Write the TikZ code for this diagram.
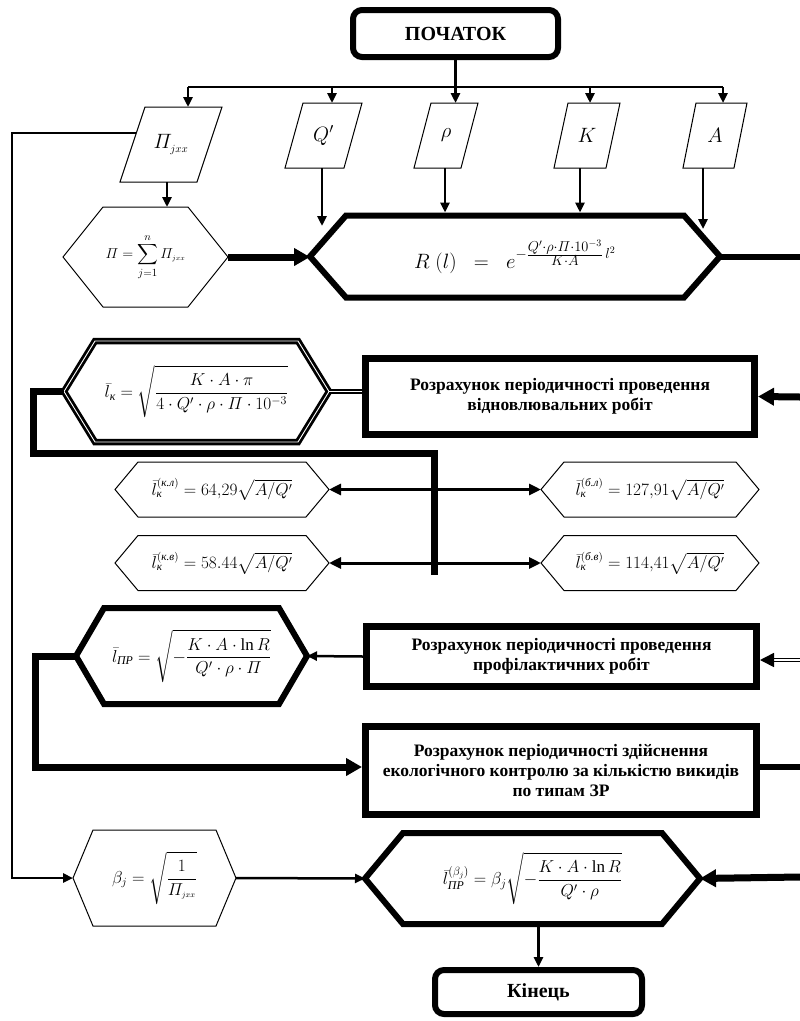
\documentclass[tikz,border=0pt]{standalone}
\usepackage{amsmath}
\usepackage{fontspec}
\setmainfont{Liberation Serif}
\usetikzlibrary{arrows.meta}
\newcommand\cyr[1]{\text{\itshape #1}}
\newcommand\hexshape[8]{%
  \node[hexnode, minimum width=#5pt, minimum height=#6pt] (#2) at (#3,#4) {#8};
  \draw[#1] (#2.west) -- ([xshift=#7pt]#2.north west) -- ([xshift=-#7pt]#2.north east) -- (#2.east) -- ([xshift=-#7pt]#2.south east) -- ([xshift=#7pt]#2.south west) -- cycle;}
\newcommand\parashape[7]{%
  \node[hexnode, minimum width=#4pt, minimum height=#5pt] (#1) at (#2,#3) {#7};
  \draw[thinln] ([xshift=#6pt]#1.north west) -- (#1.north east) -- ([xshift=-#6pt]#1.south east) -- (#1.south west) -- cycle;}
\tikzset{
  hexnode/.style={rectangle, draw=none, inner sep=0pt, outer sep=0pt},
  thinln/.style={line width=1pt, line join=miter},
  thickhex/.style={line width=6pt, line join=miter},
  dblhex/.style={line width=2.8pt, double=white, double distance=0.9pt, line join=miter},
  ln/.style={line width=2.5pt},
  thickln/.style={line width=7pt, line join=miter},
  dblln/.style={line width=1.6pt, double=white, double distance=1.6pt},
  arr/.style={line width=2.5pt, -{Triangle[length=10pt,width=9pt]}},
  dblarr/.style={line width=3pt, {Triangle[length=12pt,width=11pt]}-{Triangle[length=12pt,width=11pt]}},
  bigarr/.style={line width=7pt, line join=miter, -{Triangle[length=16pt,width=17pt]}},
  dblarrow/.style={line width=1.6pt, double=white, double distance=1.6pt, -{Triangle[length=14pt,width=14pt]}},
  procbox/.style={draw, line width=7pt, outer sep=3.5pt, inner sep=0pt, align=center, font=\fontsize{17.5}{20}\selectfont\bfseries},
  termbox/.style={draw, line width=6pt, outer sep=3pt, inner sep=0pt, rounded corners=9pt, font=\fontsize{20}{24}\selectfont\bfseries},
}
\begin{document}
\begin{tikzpicture}[x=1pt,y=-1pt]
\fill[white] (0,0) rectangle (800,1021);
\useasboundingbox (0,0) rectangle (800,1021);

% start
\node[termbox, minimum width=205pt, minimum height=47pt] (start) at (455.5,33.5) {ПОЧАТОК};

% parameters
\parashape{Pj}{171}{144.5}{102}{75}{25}{\fontsize{21}{24}\selectfont$\varPi_{\scriptscriptstyle jxx}$}
\parashape{Q}{323.5}{135.5}{77}{65}{18}{\fontsize{21}{24}\selectfont$Q'$}
\parashape{Rho}{446}{135.5}{64}{65}{17}{\fontsize{21}{24}\selectfont$\rho$}
\parashape{K}{587}{135.5}{66}{65}{14}{\fontsize{21}{24}\selectfont$K$}
\parashape{A}{715}{135.5}{64}{65}{13}{\fontsize{21}{24}\selectfont$A$}

% bus
\coordinate (busL) at (188,87);
\coordinate (busR) at (723,87);
\coordinate (busM) at (455.5,87);
\coordinate (qt) at (332,87);
\coordinate (kt) at (590,87);
\draw[ln] (start.south) -- (busM);
\draw[ln] (busL) -- (busR);
\draw[arr] (busL) -- (busL |- Pj.north);
\draw[arr] (qt) -- (qt |- Q.north);
\draw[arr] (busM) -- (busM |- Rho.north);
\draw[arr] (kt) -- (kt |- K.north);
\draw[arr] (busR) -- (busR |- A.north);

% Pi hexagon and R hexagon
\hexshape{thinln}{Pi}{145.5}{257}{165}{100}{40}{\fontsize{15}{18}\selectfont$\displaystyle \varPi=\sum_{j=1}^{n}\varPi_{\scriptscriptstyle jxx}$}
\hexshape{thickhex}{R}{515}{256.5}{410}{82}{36}{\fontsize{20}{24}\selectfont$R\;(l)\;\;=\;\;e^{-\frac{\scriptstyle Q'\cdot\rho\cdot\varPi\cdot10^{-3}}{\scriptstyle K\cdot A}\,l^{2}}$}

\coordinate (pe) at (167,0);
\coordinate (qe) at (322,226);
\coordinate (re) at (445,0);
\coordinate (ke) at (580,0);
\coordinate (ae) at (703,229);
\draw[arr] (pe |- Pj.south) -- (pe |- Pi.north);
\draw[arr] (qe |- Q.south) -- (qe);
\draw[arr] (re |- Rho.south) -- ([yshift=3pt]re |- R.north);
\draw[arr] (ke |- K.south) -- ([yshift=3pt]ke |- R.north);
\draw[arr] (ae |- A.south) -- (ae);
\draw[bigarr] (Pi.east) -- (Pi.east -| R.west);
\coordinate (rr) at (800,256.5);
\draw[line width=6pt] (R.east) -- (rr);

% restoration block
\hexshape{dblhex}{Lk}{196.5}{391.5}{265}{101}{31}{\fontsize{17}{20}\selectfont$\displaystyle \bar{l}_{\cyr{к}}=\sqrt{\frac{K\cdot A\cdot\pi}{4\cdot Q'\cdot\rho\cdot\varPi\cdot10^{-3}}}$}
\node[procbox, minimum width=389pt, minimum height=76pt] (B1) at (560,396.5) {Розрахунок періодичності проведення\\відновлювальних робіт};
\draw[dblln] (B1.west |- Lk.east) -- (Lk.east);
\coordinate (b1r) at (800,397);
\draw[bigarr] (b1r) -- (B1.east);

% small hexagons
\hexshape{thinln}{H1}{222}{489.5}{214}{55}{23}{\fontsize{16}{19}\selectfont$\bar{l}_{\cyr{к}}^{(\cyr{к.л})}=64{,}29\sqrt{A/Q'}$}
\hexshape{thinln}{H2}{650}{489.5}{218}{55}{23}{\fontsize{16}{19}\selectfont$\bar{l}_{\cyr{к}}^{(\cyr{б.л})}=127{,}91\sqrt{A/Q'}$}
\hexshape{thinln}{H3}{222}{563}{214}{55}{23}{\fontsize{16}{19}\selectfont$\bar{l}_{\cyr{к}}^{(\cyr{к.в})}=58.44\sqrt{A/Q'}$}
\hexshape{thinln}{H4}{650}{563}{218}{55}{23}{\fontsize{16}{19}\selectfont$\bar{l}_{\cyr{к}}^{(\cyr{б.в})}=114{,}41\sqrt{A/Q'}$}
\draw[dblarr] (H1.east) -- (H2.west);
\draw[dblarr] (H3.east) -- (H4.west);
\coordinate (t1) at (33,453);
\coordinate (t2) at (434,575);
\draw[thickln] (Lk.west) -| (t1) -| (t2);

% preventive block
\hexshape{thickhex}{Lpr}{191.5}{656}{231}{96}{28}{\fontsize{17}{20}\selectfont$\displaystyle \bar{l}_{\cyr{ПР}}=\sqrt{-\frac{K\cdot A\cdot\ln R}{Q'\cdot\rho\cdot\varPi}}$}
\node[procbox, minimum width=390pt, minimum height=60pt] (B2) at (561.5,656.5) {Розрахунок періодичності проведення\\профілактичних робіт};
\draw[arr] (B2.west) -- (Lpr.east);
\coordinate (b2r) at (800,660);
\draw[dblarrow] (b2r) -- (B2.east |- b2r);

% ecological control block
\node[procbox, minimum width=391pt, minimum height=88pt] (B3) at (561,770.5) {Розрахунок періодичності здійснення\\екологічного контролю за кількістю викидів\\по типам ЗР};
\coordinate (t3) at (35,767);
\draw[bigarr] (Lpr.west) -| (t3) -- (t3 -| B3.west);
\coordinate (b3r) at (800,767);
\draw[line width=6pt] (B3.east |- b3r) -- (b3r);

% beta block
\hexshape{thinln}{Beta}{154.5}{878}{163}{96}{20}{\fontsize{16}{19}\selectfont$\displaystyle \beta_{j}=\sqrt{\frac{1}{\varPi_{\scriptscriptstyle jxx}}}$}
\hexshape{thickhex}{Fin}{532.5}{878.5}{335}{91}{38}{\fontsize{17}{20}\selectfont$\displaystyle \bar{l}_{\cyr{ПР}}^{(\beta_j)}=\beta_j\sqrt{-\frac{K\cdot A\cdot\ln R}{Q'\cdot\rho}}$}
\coordinate (fb0) at (136,133);
\coordinate (fb1) at (12,878);
\draw[arr] (fb0) -| (fb1) -- (Beta.west);
\draw[arr] (Beta.east) -- (Fin.west);
\coordinate (fr) at (800,877);
\draw[bigarr] (fr) -- (Fin.east);

% end
\node[termbox, minimum width=207pt, minimum height=44pt] (End) at (538.5,992) {Кінець};
\draw[arr] (End.north |- Fin.south) -- (End.north);
\end{tikzpicture}
\end{document}
